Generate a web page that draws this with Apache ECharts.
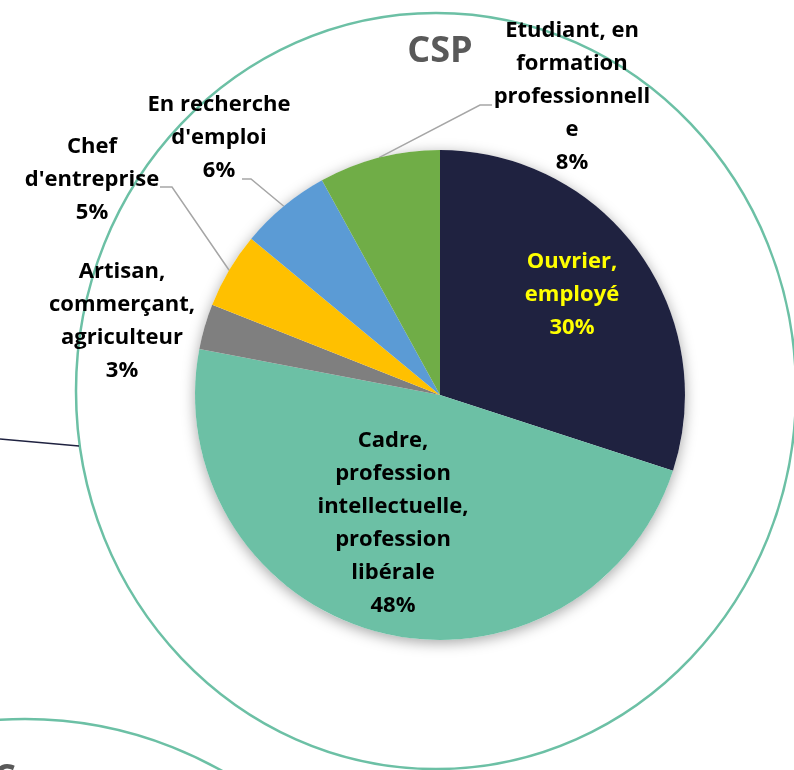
<!DOCTYPE html>
<html>
<head>
<meta charset="utf-8">
<script src="https://cdn.jsdelivr.net/npm/echarts@6/dist/echarts.min.js"></script>
<style>
  html, body { margin: 0; padding: 0; background: #fff; }
  #csp { width: 794px; height: 770px; }
</style>
</head>
<body>
<div id="csp"></div>
<script>
// catégories (avec les retours à la ligne du graphique d'origine)
var categories = [
  "Ouvrier,\nemployé",
  "Cadre,\nprofession\nintellectuelle,\nprofession\nlibérale",
  "Artisan,\ncommerçant,\nagriculteur",
  "Chef\nd'entreprise",
  "En recherche\nd'emploi",
  "Etudiant, en\nformation\nprofessionnell\ne"
];
var values = [30, 48, 3, 5, 6, 8];

var colors = ["#1f2240", "#6cc0a5", "#7f7f7f", "#ffc000", "#5b9bd5", "#70ad47"];
var labelColors = ["#ffff00", "#000", "#000", "#000", "#000", "#000"];
var showLine = [false, false, false, true, true, true];
// centre de chaque étiquette (px)
var labelPos = [[572, 295], [393, 523], [122, 321], [92, 180], [219, 138], [572, 97]];
// trait de rappel : coude puis extrémité, relatifs au centre de l'étiquette
var guideOffsets = {
  3: [[80, 7], [68, 7]],
  4: [[32, 41], [23, 41]],
  5: [[-92, 8], [-80, 8]]
};

var myChart = echarts.init(document.getElementById("csp"));

var pieData = values.map(function (v, i) {
  return {
    name: categories[i],
    value: v,
    itemStyle: { color: colors[i] },
    label: { color: labelColors[i] },
    labelLine: { show: showLine[i] }
  };
});

var option = {
  animation: false,
  graphic: [
    {
      type: "ellipse",
      z: 0,
      shape: { cx: 436, cy: 391, rx: 360, ry: 378 },
      style: { fill: null, stroke: "#6cc0a5", lineWidth: 2.5 }
    },
    {
      type: "circle",
      z: 0,
      shape: { cx: 25, cy: 1119, r: 400 },
      style: { fill: null, stroke: "#6cc0a5", lineWidth: 2.5 }
    },
    {
      type: "line",
      z: 0,
      shape: { x1: 0, y1: 439, x2: 79, y2: 446 },
      style: { stroke: "#1f2240", lineWidth: 1.5 }
    },
    {
      type: "text",
      z: 0,
      style: {
        text: "CSP", x: 440, y: 52, align: "center", verticalAlign: "middle",
        fill: "#595959", font: "bold 36px 'Open Sans'"
      }
    },
    {
      type: "text",
      z: 0,
      style: {
        text: "C", x: -7, y: 762, align: "left", verticalAlign: "top",
        fill: "#595959", font: "bold 36px 'Open Sans'"
      }
    }
  ],
  series: [
    {
      // ombre portée sous le camembert
      type: "pie",
      z: 1,
      silent: true,
      center: [440, 395],
      radius: 245,
      label: { show: false },
      labelLine: { show: false },
      itemStyle: {
        color: "#fff",
        shadowBlur: 14,
        shadowColor: "rgba(0,0,0,0.35)",
        shadowOffsetY: 3
      },
      data: [{ value: 1 }]
    },
    {
      type: "pie",
      z: 2,
      center: [440, 395],
      radius: 245,
      startAngle: 90,
      clockwise: true,
      label: {
        show: true,
        position: "outside",
        fontFamily: "Open Sans",
        fontWeight: "bold",
        fontSize: 22,
        lineHeight: 33,
        align: "center",
        formatter: function (p) {
          return p.name + "\n" + Math.round(p.percent) + "%";
        }
      },
      labelLine: {
        length: 20,
        length2: 12,
        lineStyle: { color: "#a6a6a6", width: 1.5 }
      },
      labelLayout: function (params) {
        var i = params.dataIndex;
        var pos = labelPos[i];
        var res = { x: pos[0], y: pos[1], align: "center", verticalAlign: "middle" };
        var g = guideOffsets[i];
        if (g && params.labelLinePoints) {
          // point d'ancrage calculé par ECharts sur le bord du secteur
          var anchor = params.labelLinePoints[0];
          res.labelLinePoints = [
            [anchor[0], anchor[1]],
            [pos[0] + g[0][0], pos[1] + g[0][1]],
            [pos[0] + g[1][0], pos[1] + g[1][1]]
          ];
        }
        return res;
      },
      data: pieData
    }
  ]
};

window.addEventListener("resize", function () {
  myChart.resize();
});
myChart.setOption(option);
</script>
</body>
</html>
